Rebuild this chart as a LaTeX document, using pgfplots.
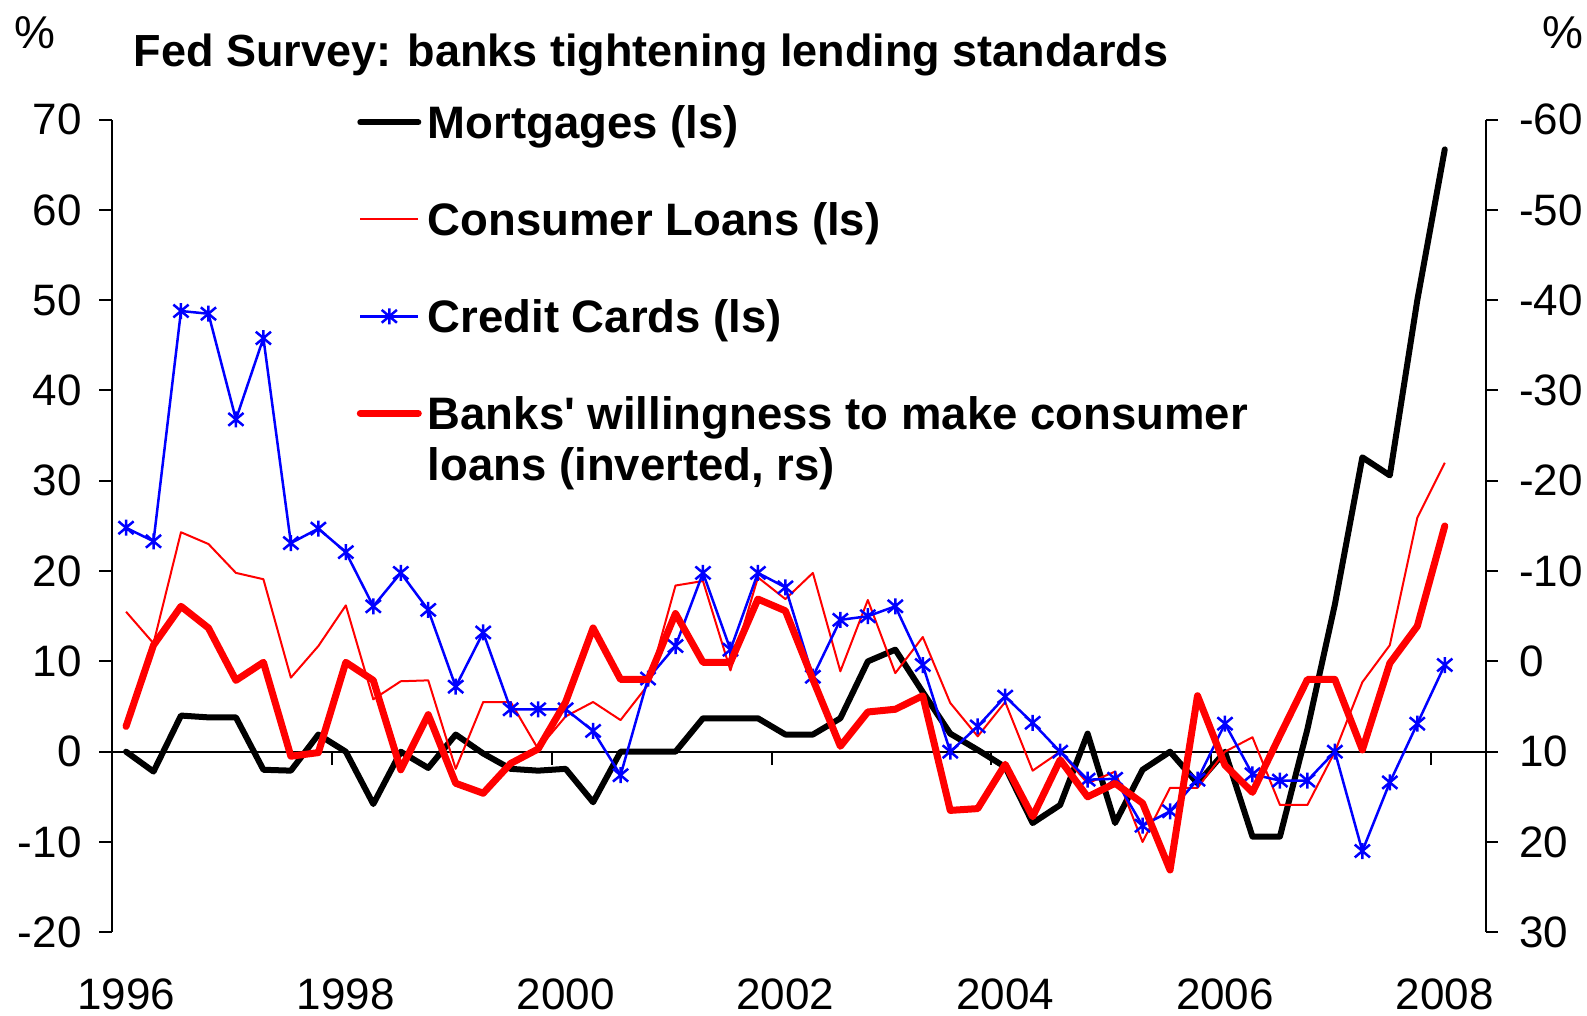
\documentclass[border=0pt]{standalone}
\usepackage{fontspec}
\setmainfont{Liberation Sans}
\usepackage{pgfplots}
\pgfplotsset{compat=1.18}

\pgfdeclareplotmark{xstar}{%
  \pgfpathmoveto{\pgfqpoint{0pt}{\pgfplotmarksize}}%
  \pgfpathlineto{\pgfqpoint{0pt}{-\pgfplotmarksize}}%
  \pgfpathmoveto{\pgfqpoint{-0.95\pgfplotmarksize}{0.8\pgfplotmarksize}}%
  \pgfpathlineto{\pgfqpoint{0.95\pgfplotmarksize}{-0.8\pgfplotmarksize}}%
  \pgfpathmoveto{\pgfqpoint{-0.95\pgfplotmarksize}{-0.8\pgfplotmarksize}}%
  \pgfpathlineto{\pgfqpoint{0.95\pgfplotmarksize}{0.8\pgfplotmarksize}}%
  \pgfusepathqstroke}

\begin{document}
\begin{tikzpicture}[x=1pt,y=1pt]
\path[use as bounding box] (0,0) rectangle (1587,1016);

\node[anchor=base west, inner sep=0pt, font=\bfseries\fontsize{45}{54}\selectfont] at (133.5,949) {Fed Survey: banks tightening lending standards};
\node[anchor=base west, inner sep=0pt, font=\fontsize{46}{54}\selectfont] at (14.5,967) {\%};
\node[anchor=base west, inner sep=0pt, font=\fontsize{46}{54}\selectfont] at (1542,967) {\%};

\begin{axis}[
  at={(112.3pt,83.7pt)}, anchor=south west,
  scale only axis, width=1373.7pt, height=812.7pt,
  xmin=-0.5, xmax=49.5, ymin=-20, ymax=70,
  axis y line*=left, axis x line*=bottom,
  axis line style={-},
  x axis line style={draw=none},
  y axis line style={line width=2pt},
  xtick={0,8,...,48},
  xticklabels={1996,1998,2000,2002,2004,2006,2008},
  x tick style={draw=none},
  ytick={-20,-10,...,70},
  y tick style={line width=2pt, black},
  tick align=outside, major tick length=13pt,
  /pgf/number format/assume math mode=true,
  yticklabel style={font=\fontsize{44}{52}\selectfont, anchor=east, inner sep=0pt, xshift=-17.6pt},
  xticklabel style={font=\fontsize{44}{52}\selectfont, anchor=base, inner sep=0pt, yshift=-64pt},
  clip=false,
  legend image code/.code={\draw[mark repeat=2,mark phase=2,#1] plot coordinates {(0pt,16.5pt) (29pt,16.5pt) (58pt,16.5pt)};},
  legend style={at={(0.178,1.0194)}, anchor=north west, draw=none, fill=none,
    inner sep=0pt, outer sep=0pt, row sep=50pt, column sep=6pt,
    font=\bfseries\fontsize{45.5}{51}\selectfont,
    nodes={inner sep=0pt, text height=35pt, text depth=12pt, anchor=base west}},
  legend cell align=left,
]
\draw[line width=2pt] (axis cs:-0.5,0) -- (axis cs:49.5,0);
\pgfplotsinvokeforeach{7.5,15.5,23.5,31.5,39.5,47.5}{
  \draw[line width=2pt] (axis cs:#1,0) -- ++(0pt,-13pt);
}

\addplot[black, line width=6pt, line join=round, line cap=round] coordinates {
(0,0)(1,-2.2)(2,4.0)(3,3.8)(4,3.8)(5,-2.0)(6,-2.1)(7,1.9)(8,0)(9,-5.8)(10,0)(11,-1.8)(12,1.9)(13,-0.2)(14,-1.9)(15,-2.1)(16,-1.9)(17,-5.6)(18,0)(19,0)(20,0)(21,3.7)(22,3.7)(23,3.7)(24,1.9)(25,1.9)(26,3.7)(27,10.0)(28,11.3)(29,6.6)(30,2.0)(31,0.2)(32,-1.7)(33,-7.9)(34,-5.9)(35,2.0)(36,-7.9)(37,-2.0)(38,0)(39,-3.5)(40,0)(41,-9.4)(42,-9.4)(43,2.5)(44,16.3)(45,32.6)(46,30.6)(47,50.0)(48,66.7)
};
\addlegendentry{Mortgages (ls)}

\addplot[red, line width=2pt, line join=round] coordinates {
(0,15.5)(1,12.0)(2,24.3)(3,23.0)(4,19.8)(5,19.1)(6,8.2)(7,11.7)(8,16.2)(9,5.8)(10,7.8)(11,7.9)(12,-1.9)(13,5.5)(14,5.5)(15,0.3)(16,3.9)(17,5.5)(18,3.5)(19,7.4)(20,18.4)(21,18.9)(22,9.0)(23,19.3)(24,16.9)(25,19.8)(26,8.9)(27,16.8)(28,8.7)(29,12.7)(30,5.4)(31,1.7)(32,5.5)(33,-2.1)(34,0)(35,-3.5)(36,-2.2)(37,-10.0)(38,-4.0)(39,-4.0)(40,0)(41,1.6)(42,-5.9)(43,-5.9)(44,0)(45,7.7)(46,11.8)(47,25.9)(48,32.0)
};
\addlegendentry{Consumer Loans (ls)}

\addplot[blue, line width=2.5pt, line join=round, mark=xstar, mark size=8pt, mark options={line width=2.5pt, solid}] coordinates {
(0,24.8)(1,23.3)(2,48.8)(3,48.5)(4,36.8)(5,45.8)(6,23.1)(7,24.7)(8,22.1)(9,16.1)(10,19.8)(11,15.7)(12,7.2)(13,13.2)(14,4.7)(15,4.7)(16,4.7)(17,2.3)(18,-2.6)(19,8.1)(20,11.7)(21,19.8)(22,11.3)(23,19.8)(24,18.2)(25,8.3)(26,14.6)(27,15.0)(28,16.1)(29,9.6)(30,0)(31,2.8)(32,6.1)(33,3.2)(34,0)(35,-3.1)(36,-3.0)(37,-8.2)(38,-6.6)(39,-3.1)(40,3.1)(41,-2.5)(42,-3.2)(43,-3.2)(44,0)(45,-11.0)(46,-3.4)(47,3.1)(48,9.6)
};
\addlegendentry{Credit Cards (ls)}

\addlegendimage{red, line width=7pt, line cap=round}
\addlegendentry{\vtop{\hbox{Banks\textquotesingle{} willingness to make consumer}\hbox{loans (inverted, rs)}}}
\end{axis}

\begin{axis}[
  at={(112.3pt,83.7pt)}, anchor=south west,
  scale only axis, width=1373.7pt, height=812.7pt,
  xmin=-0.5, xmax=49.5, ymin=-60, ymax=30, y dir=reverse,
  axis y line*=right, axis x line=none,
  axis line style={-},
  y axis line style={line width=2pt},
  ytick={-60,-50,...,30},
  y tick style={line width=2pt, black},
  tick align=outside, major tick length=12pt,
  /pgf/number format/assume math mode=true,
  yticklabel style={font=\fontsize{44}{52}\selectfont, anchor=west, inner sep=0pt, xshift=21pt},
  clip=false,
]
\addplot[red, line width=7pt, line join=round, line cap=round] coordinates {
(0,7.2)(1,-1.8)(2,-6.1)(3,-3.7)(4,2.1)(5,0.1)(6,10.5)(7,10.1)(8,0.1)(9,2.1)(10,12.0)(11,5.9)(12,13.5)(13,14.6)(14,11.3)(15,9.7)(16,4.5)(17,-3.7)(18,2.0)(19,2.0)(20,-5.3)(21,0.1)(22,0.1)(23,-6.9)(24,-5.6)(25,2.0)(26,9.4)(27,5.6)(28,5.3)(29,3.8)(30,16.5)(31,16.3)(32,11.4)(33,17.2)(34,10.9)(35,15.0)(36,13.5)(37,15.7)(38,23.1)(39,3.8)(40,11.5)(41,14.5)(42,8.2)(43,2.0)(44,2.0)(45,9.8)(46,0.2)(47,-3.9)(48,-15.0)
};
\end{axis}
\end{tikzpicture}
\end{document}
